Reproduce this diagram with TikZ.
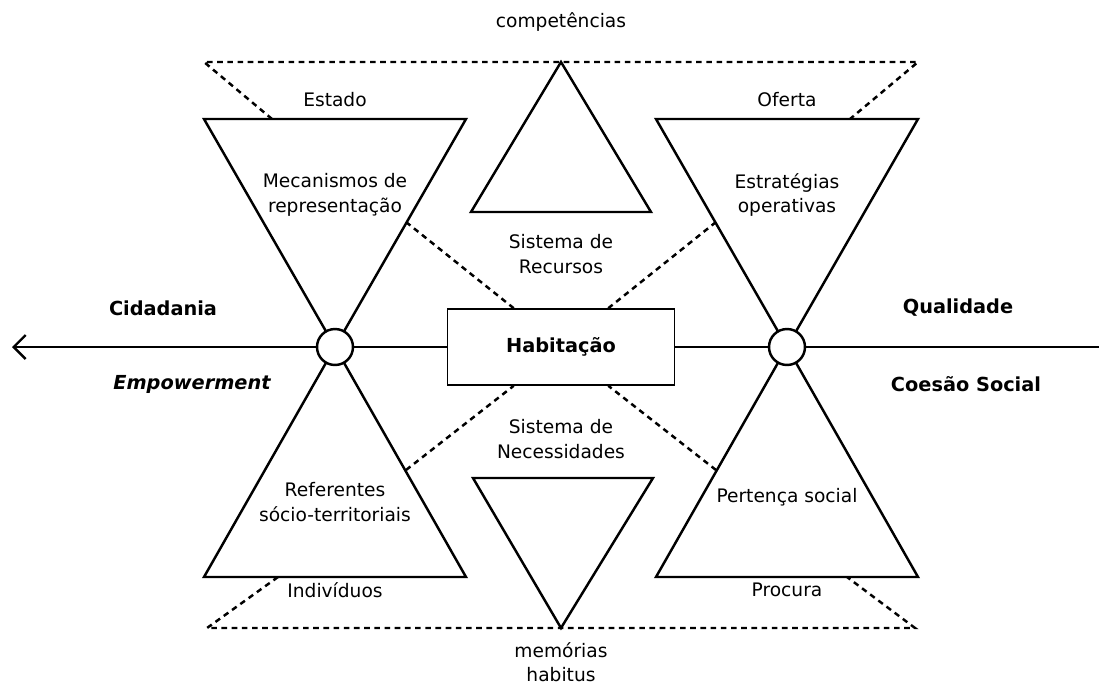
\documentclass[tikz,border=0pt]{standalone}
\usepackage{fontspec}
\setmainfont{DejaVu Sans}
\usetikzlibrary{arrows.meta}

\begin{document}
\begin{tikzpicture}[x=0.02cm, y=-0.02cm,
  hub/.style = {draw, circle, fill=white, line width=1.4pt, minimum size=0.72cm, inner sep=0pt},
  box/.style = {draw, fill=white, line width=0.9pt, minimum width=4.54cm, minimum height=1.52cm},
  tri/.style = {line width=1.4pt, line join=miter},
  dots/.style = {line width=1.4pt, dash pattern=on 3.2pt off 2.6pt},
  axis/.style = {line width=1.4pt},
  lbl/.style = {align=center, font=\fontsize{10.6}{14}\selectfont},
  key/.style = {font=\fontsize{11}{14}\selectfont\bfseries}]
\useasboundingbox (0,0) rectangle (1099,684);

% triangles
\draw[tri] (204,119) -- (466,119) -- (335,347) -- cycle;
\draw[tri] (204,577) -- (466,577) -- (335,347) -- cycle;
\draw[tri] (656,119) -- (918,119) -- (787,347) -- cycle;
\draw[tri] (656,577) -- (918,577) -- (787,347) -- cycle;
\draw[tri] (561,62) -- (651,212) -- (471,212) -- cycle;
\draw[tri] (473,478) -- (653,478) -- (561,628) -- cycle;

% dotted frame
\draw[dots] (272,119) -- (204,62) -- (918,62) -- (850,119);
\draw[dots] (278,577) -- (207,628) -- (915,628) -- (847,577);

% hubs and box
\node[hub] (lhub) at (335,347) {};
\node[hub] (rhub) at (787,347) {};
\node[box] (hab) at (561,347) {};
\node[key] (habt) at (561,347) {Habitação};
\coordinate (west) at (12,347);
\coordinate (east) at (1099,347);

\draw[axis, -{Straight Barb[length=2.4mm,width=4.8mm]}] (lhub) -- (west);
\draw[axis] (lhub) -- (hab);
\draw[axis] (hab) -- (rhub);
\draw[axis] (rhub) -- (east);

% dashed links to the box
\coordinate (ul) at (406,222);
\coordinate (ur) at (716,222);
\coordinate (dl) at (406,470);
\coordinate (dr) at (716,470);
\draw[dots] (ul) -- ([xshift=1.34cm]hab.north west);
\draw[dots] (ur) -- ([xshift=-1.34cm]hab.north east);
\draw[dots] (dl) -- ([xshift=1.34cm]hab.south west);
\draw[dots] (dr) -- ([xshift=-1.34cm]hab.south east);

% labels
\node[lbl] (comp) at (561,22) {competências};
\node[lbl] (estado) at (335,100) {Estado};
\node[lbl] (oferta) at (787,100) {Oferta};
\node[lbl] (mec) at (335,195) {Mecanismos de\\representação};
\node[lbl] (estr) at (787,195) {Estratégias\\operativas};
\node[lbl] (rec) at (561,254) {Sistema de\\Recursos};
\node[key] (cid) at (163,308) {Cidadania};
\node[key] (qual) at (958,308) {Qualidade};
\node[key] (emp) at (192,384) {\itshape Empowerment};
\node[key] (coes) at (966,384) {Coesão Social};
\node[lbl] (nec) at (561,439) {Sistema de\\Necessidades};
\node[lbl] (ref) at (335,502) {Referentes\\sócio-territoriais};
\node[lbl] (pert) at (787,497) {Pertença social};
\node[lbl] (indiv) at (335,590) {Indivíduos};
\node[lbl] (proc) at (787,590) {Procura};
\node[lbl] (mem) at (561,662) {memórias\\habitus};
\end{tikzpicture}
\end{document}
